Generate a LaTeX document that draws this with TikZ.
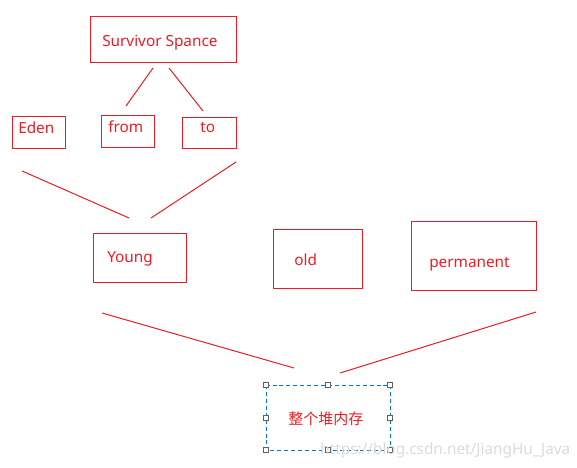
\documentclass[tikz,border=0pt]{standalone}
\usepackage{fontspec}
\setmainfont{Noto Sans}
\newfontfamily\cjk{Noto Sans CJK SC}
\usepackage{xcolor}
\usetikzlibrary{positioning}
\definecolor{memred}{RGB}{237,28,36}
\definecolor{selblue}{RGB}{0,120,215}
\definecolor{handlegray}{RGB}{96,96,96}

\begin{document}
\begin{tikzpicture}[x=0.75pt,y=-0.75pt,
    box/.style={draw=memred,line width=0.75pt,inner sep=0pt},
    txt/.style={text=memred,inner sep=0pt,anchor=base west,font=\fontsize{11.5}{13}\selectfont},
    link/.style={draw=memred,line width=0.75pt},
    handle/.style={draw=handlegray,fill=white,line width=0.6pt,minimum size=3.5pt,inner sep=0pt}]
  \useasboundingbox (0,0) rectangle (577,467);
  % top level
  \draw[box] (90,17) rectangle (236,63);
  \node[txt] (survivor) at (102,47) {Survivor Spance};
  \draw[box] (12,116) rectangle (65,148);
  \node[txt] (eden) at (18,133) {Eden};
  \draw[box] (101,115) rectangle (154,147);
  \node[txt] (from) at (108,132) {from};
  \draw[box] (182,117) rectangle (236,148);
  \node[txt] (to) at (200,132) {to};
  % lines under survivor
  \coordinate (s1) at (153,68);
  \coordinate (s2) at (126,106);
  \coordinate (s3) at (169,68);
  \coordinate (s4) at (203,111);
  \draw[link] (s1) -- (s2);
  \draw[link] (s3) -- (s4);
  % lines into young
  \coordinate (y1) at (22,171);
  \coordinate (y2) at (129,218);
  \coordinate (y3) at (236,162);
  \coordinate (y4) at (151,218);
  \draw[link] (y1) -- (y2);
  \draw[link] (y3) -- (y4);
  % generations
  \draw[box] (93,233) rectangle (186,282);
  \node[txt] (young) at (107,262) {Young};
  \draw[box] (273,229) rectangle (362,288);
  \node[txt] (old) at (294,265) {old};
  \draw[box] (411,221) rectangle (536,290);
  \node[txt] (perm) at (429,267) {permanent};
  % lines into heap
  \coordinate (h1) at (102,313);
  \coordinate (h2) at (294,368);
  \coordinate (h3) at (536,312);
  \coordinate (h4) at (340,373);
  \draw[link] (h1) -- (h2);
  \draw[link] (h3) -- (h4);
  % heap box
  \draw[draw=selblue,line width=0.75pt,dash pattern=on 3pt off 2.2pt] (266,385) rectangle (390,450);
  \node[txt,font=\cjk\fontsize{11.25}{13}\selectfont] (heap) at (288,424) {整个堆内存};
  \foreach \hx/\hy in {266/385,328/385,390/385,266/418,390/418,266/450,328/450,390/450}
    \node[handle] at (\hx,\hy) {};
  \node[txt,text=black!14] (mark) at (320,454) {https://blog.csdn.net/JiangHu\_Java};
\end{tikzpicture}
\end{document}
